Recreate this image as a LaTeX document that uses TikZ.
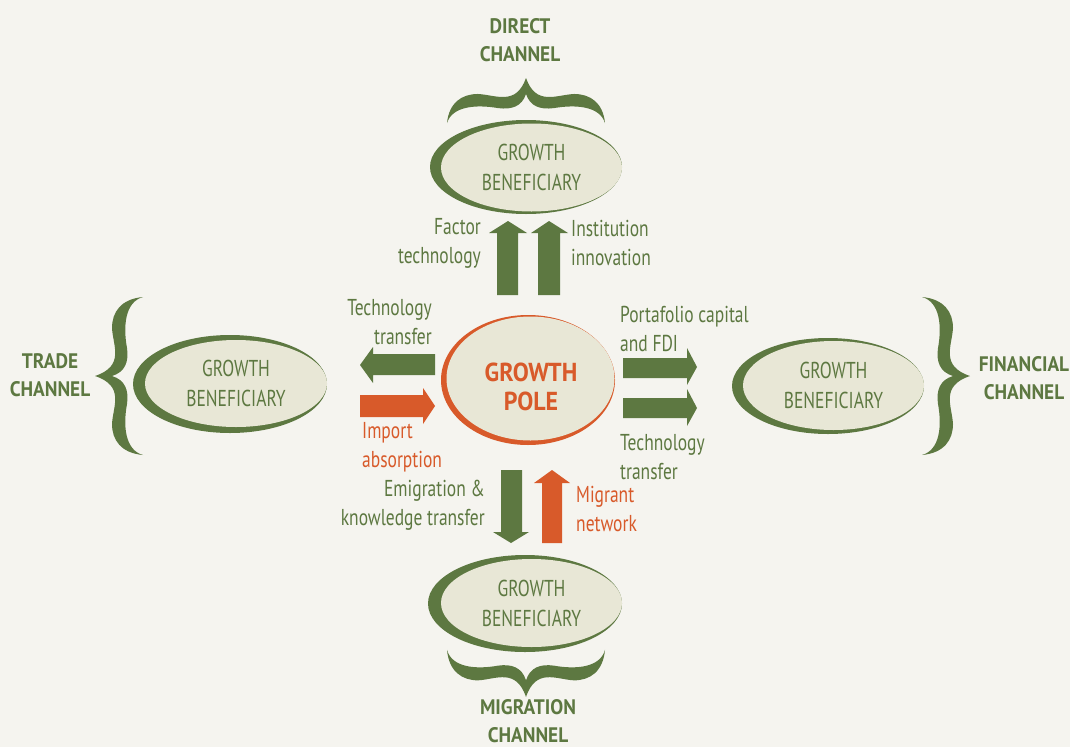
\documentclass[tikz,border=0pt]{standalone}
\usepackage{fontspec}
\setmainfont{PT Sans}[FakeStretch=0.76, BoldFeatures={FakeStretch=0.92}]
\usetikzlibrary{shapes.geometric}
\definecolor{bg}{RGB}{245,244,239}
\definecolor{grn}{RGB}{93,120,65}
\definecolor{org}{RGB}{216,90,42}
\definecolor{lite}{RGB}{232,231,214}
\tikzset{
  txt/.style={inner sep=0pt, text=grn, font=\fontsize{23}{29}\selectfont},
  otxt/.style={txt, text=org},
  chan/.style={inner sep=0pt, text=grn, align=center, font=\bfseries\fontsize{21}{28}\selectfont},
  benef/.style={ellipse, fill=lite, inner sep=0pt, align=center, text=grn, font=\fontsize{23}{30}\selectfont},
}
\def\brshape{(48,-79) .. controls (26,-77) and (17,-64) .. (17,-48) .. controls (18,-30) and (30,-10) .. (0,0)
  .. controls (30,10) and (18,30) .. (17,48) .. controls (17,64) and (26,77) .. (48,79)
  .. controls (30,74) and (28,50) .. (32,28) .. controls (34,14) and (30,4) .. (17,0)
  .. controls (30,-4) and (34,-14) .. (32,-28) .. controls (28,-50) and (30,-74) .. (48,-79) -- cycle}
\begin{document}
\begin{tikzpicture}[x=1pt,y=-1pt]
\fill[bg] (0,0) rectangle (1070,747);
\useasboundingbox (0,0) rectangle (1070,747);

% braces
\begin{scope}[shift={(95,376)}]
  \fill[grn] \brshape;
\end{scope}
\begin{scope}[shift={(970,376)}, rotate=180]
  \fill[grn] \brshape;
\end{scope}
\begin{scope}[shift={(526,78)}, rotate=-90, xscale=0.94]
  \fill[grn] \brshape;
\end{scope}
\begin{scope}[shift={(526,697)}, rotate=90, xscale=0.98]
  \fill[grn] \brshape;
\end{scope}

% beneficiary ellipses
\fill[grn] (526,167) ellipse [x radius=96, y radius=47];
\node[benef, minimum width=181pt, minimum height=88pt] (top) at (531.5,167.5) {GROWTH\\BENEFICIARY};
\fill[grn] (230,384) ellipse [x radius=97, y radius=49];
\node[benef, minimum width=182pt, minimum height=87pt] (left) at (236,383.5) {GROWTH\\BENEFICIARY};
\fill[grn] (828,386) ellipse [x radius=96, y radius=48];
\node[benef, minimum width=181pt, minimum height=89pt] (right) at (833.5,385.5) {GROWTH\\BENEFICIARY};
\fill[grn] (525,603.5) ellipse [x radius=97, y radius=48.5];
\node[benef, minimum width=181pt, minimum height=88pt] (bottom) at (531.5,603) {GROWTH\\BENEFICIARY};

% growth pole
\fill[org] (528,380) ellipse [x radius=87, y radius=65];
\node[benef, minimum width=168pt, minimum height=124pt] (pole) at (530.5,378.5) {};
\node[inner sep=0pt, align=center, text=org, font=\bfseries\fontsize{26}{29}\selectfont] (poletxt) at (531,387) {GROWTH\\POLE};

% block arrows
\fill[grn] (497,295) -- (497,233) -- (489,233) -- (508,221) -- (527,233) -- (518,233) -- (518,295) -- cycle;
\fill[grn] (538,295) -- (538,233) -- (531,233) -- (549,221) -- (568,233) -- (560,233) -- (560,295) -- cycle;
\fill[grn] (435,354) -- (373,354) -- (373,347) -- (360,365) -- (373,383) -- (373,375) -- (435,375) -- cycle;
\fill[org] (360,395) -- (423,395) -- (423,388) -- (435,406) -- (423,424) -- (423,417) -- (360,417) -- cycle;
\fill[grn] (623,358) -- (687,358) -- (687,348) -- (697,367) -- (687,385) -- (687,378) -- (623,378) -- cycle;
\fill[grn] (623,398) -- (687,398) -- (687,389) -- (697,408) -- (687,426) -- (687,418) -- (623,418) -- cycle;
\fill[grn] (501,470) -- (522,470) -- (522,532) -- (529,532) -- (511,543) -- (493,532) -- (501,532) -- cycle;
\fill[org] (542,543) -- (542,483) -- (534,483) -- (552,470) -- (570,483) -- (562,483) -- (562,543) -- cycle;

% labels
\node[chan] (direct) at (520,40) {DIRECT\\CHANNEL};
\node[chan] (trade) at (50,375) {TRADE\\CHANNEL};
\node[chan] (fin) at (1024,378) {FINANCIAL\\CHANNEL};
\node[chan] (mig) at (528,721) {MIGRATION\\CHANNEL};

\node[txt, align=right, anchor=east] (fac) at (481,243) {Factor\\technology};
\node[txt, align=left, anchor=west] (inst) at (571,243) {Institution\\innovation};
\node[txt, align=right, anchor=east] (techl) at (432,322) {Technology\\transfer};
\node[otxt, align=left, anchor=west] (imp) at (362,447) {Import\\absorption};
\node[txt, align=left, anchor=west] (port) at (620,329) {Portafolio capital\\and FDI};
\node[txt, align=left, anchor=west] (techr) at (620,457) {Technology\\transfer};
\node[txt, align=right, anchor=east] (emi) at (485,505) {Emigration \&\\knowledge transfer};
\node[otxt, align=left, anchor=west] (migr) at (576,509) {Migrant\\network};
\end{tikzpicture}
\end{document}
